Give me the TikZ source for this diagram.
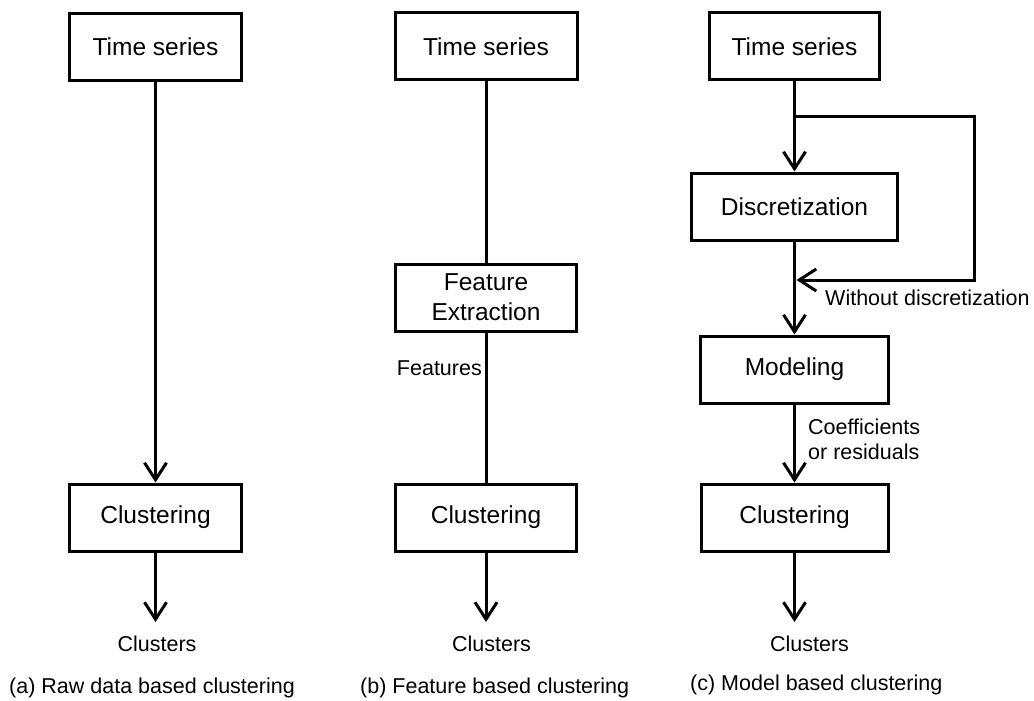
\documentclass[tikz,border=0pt]{standalone}
\usepackage{fontspec}
\setmainfont{Liberation Sans}
\usetikzlibrary{arrows.meta}
\newcommand{\boxfont}{\fontsize{24.5pt}{30pt}\selectfont}
\newcommand{\lblfont}{\fontsize{21.5pt}{25pt}\selectfont}
\tikzset{
  box/.style={draw, line width=3pt, minimum width=#1, minimum height=67pt,
              inner sep=0pt, font=\boxfont, align=center},
  flow/.style={line width=3pt},
  arr/.style={flow, -{Straight Barb[length=17pt,width=22pt,line width=3pt]}},
  lbl/.style={font=\lblfont, inner sep=0pt}
}
\begin{document}
\begin{tikzpicture}[x=1pt,y=-1pt]
\useasboundingbox (0,0) rectangle (1034,701);

% (a) raw data based clustering
\node[box=172pt] (tsa) at (155.5,47) {Time series};
\node[box=172pt] (cla) at (155.5,517.5) {Clustering};
\node[lbl, anchor=base] (ka) at (157,651) {Clusters};
\coordinate (ea) at (155.5,622);
\draw[arr] (tsa.south) -- (cla.north);
\draw[arr] (cla.south) -- (ea);
\node[lbl, anchor=base west] (capa) at (9,693) {(a) Raw data based clustering};

% (b) feature based clustering
\node[box=182pt] (tsb) at (486,46.5) {Time series};
\node[box=181pt] (feb) at (486,297.5) {Feature\\Extraction};
\node[box=181pt] (clb) at (486,517.5) {Clustering};
\node[lbl, anchor=base] (kb) at (491.5,651) {Clusters};
\coordinate (eb) at (486,622);
\draw[flow] (tsb.south) -- (feb.north);
\draw[flow] (feb.south) -- (clb.north);
\draw[arr] (clb.south) -- (eb);
\node[lbl, anchor=base east] (fl) at (482,375) {Features};
\node[lbl, anchor=base west] (capb) at (360,693) {(b) Feature based clustering};

% (c) model based clustering
\node[box=170pt] (tsc) at (794.5,46.5) {Time series};
\node[box=206pt] (dsc) at (794.5,206.5) {Discretization};
\node[box=188pt] (mdc) at (794.5,369.5) {Modeling};
\node[box=187pt] (clc) at (794.5,517.5) {Clustering};
\node[lbl, anchor=base] (kc) at (809.5,651) {Clusters};
\coordinate (ec) at (794.5,622);
\draw[arr] (tsc.south) -- (dsc.north);
\draw[arr] (dsc.south) -- (mdc.north);
\draw[arr] (mdc.south) -- (clc.north);
\draw[arr] (clc.south) -- (ec);
% bypass around the discretization step
\coordinate (bs) at (794.5,116);
\coordinate (bt) at (974,116);
\coordinate (bu) at (974,280);
\coordinate (bj) at (796.5,280);
\draw[arr] (bs) -- (bt) -- (bu) -- (bj);
\node[lbl, anchor=base west] (wd) at (825,305) {Without discretization};
\node[lbl, anchor=north west, align=left, font=\fontsize{21.5pt}{25pt}\selectfont]
  (co) at (808,419) {Coefficients\\or residuals};
\node[lbl, anchor=base west] (capc) at (690,690) {(c) Model based clustering};
\end{tikzpicture}
\end{document}
